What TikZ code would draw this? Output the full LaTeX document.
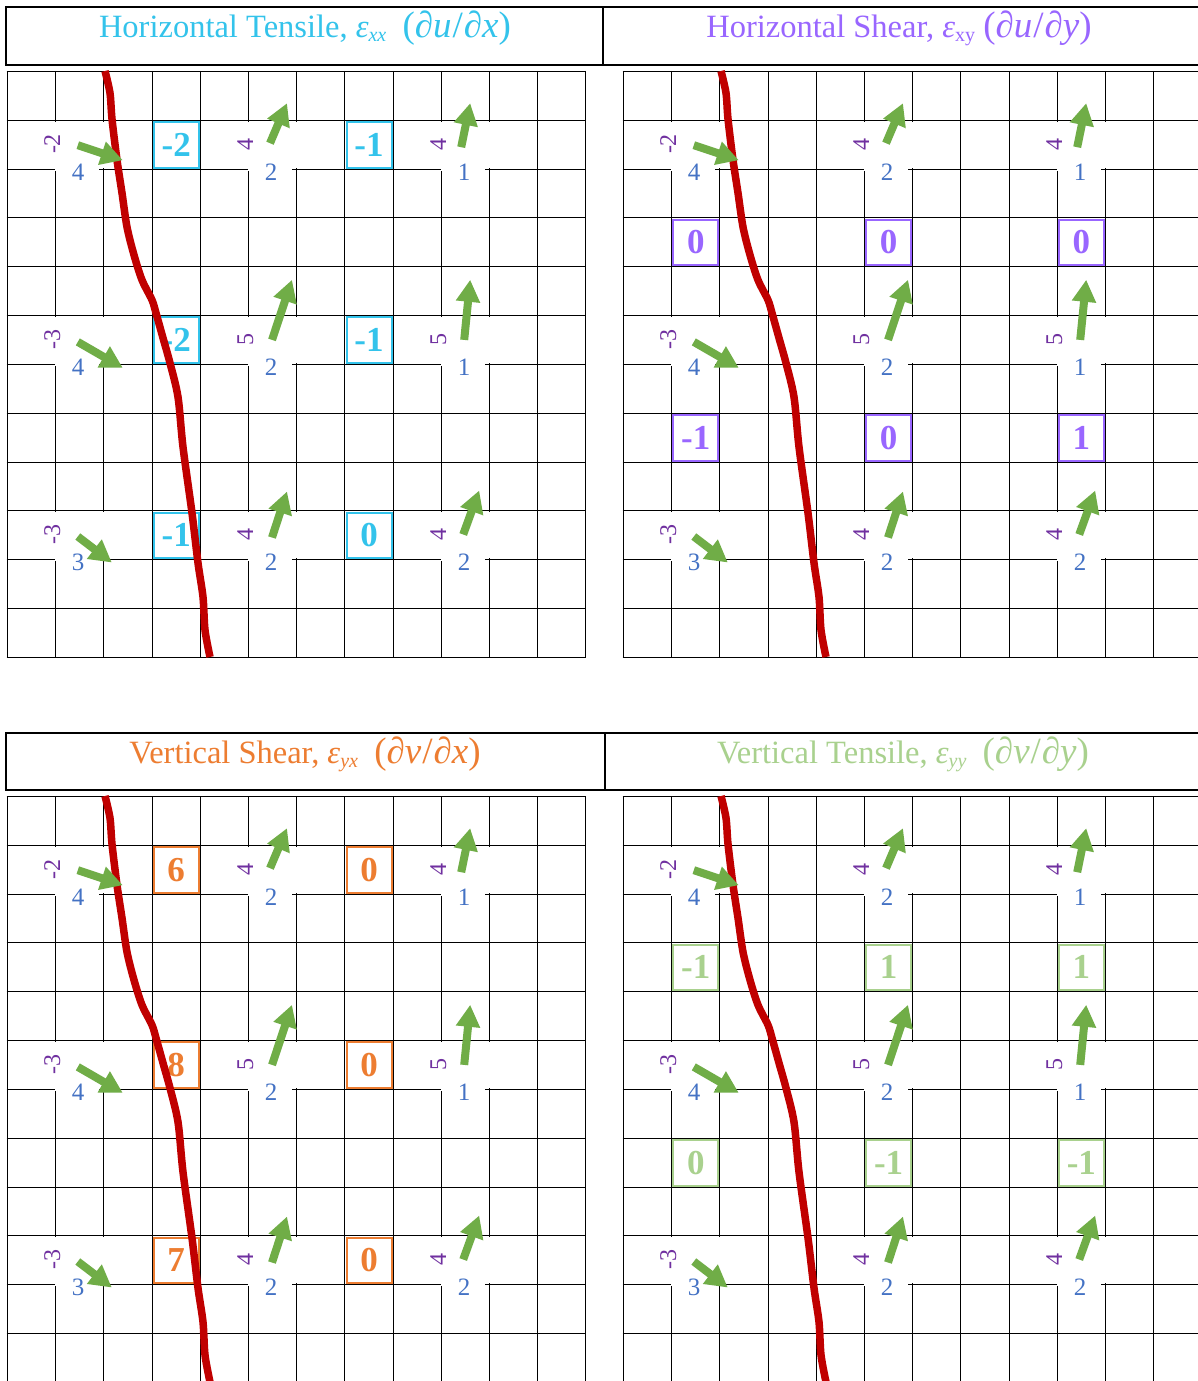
\documentclass[tikz,border=0pt]{standalone}
\usepackage{fontspec}
\setmainfont{Liberation Serif}
\usetikzlibrary{arrows.meta}
\definecolor{cyanC}{HTML}{33C3EB}
\definecolor{purpC}{HTML}{9966FF}
\definecolor{oranC}{HTML}{ED7D31}
\definecolor{lgreC}{HTML}{A9D18E}
\definecolor{labP}{HTML}{7030A0}
\definecolor{labB}{HTML}{4472C4}
\definecolor{arrG}{HTML}{70AD47}
\definecolor{redC}{HTML}{C00000}
\newcommand\dd[2]{{\fontsize{37}{40}\selectfont(∂\textit{#1}\kern1pt/\kern1pt∂\textit{#2})}}

\newcommand\drawpanel[5]{%
\begin{scope}[shift={(#1,#2)}]
  \foreach \i in {0,...,12}{
    \pgfmathsetmacro\lx{round(\i*48.2)+0.5}
    \pgfmathsetmacro\ly{round(\i*48.83)+0.5}
    \draw[gridline] (\lx,0) -- (\lx,586.8);
    \draw[gridline] (-0.3,\ly) -- (579.3,\ly);
  }
  \foreach \gc/\gr/\gp/\gb/\tx/\ty/\hx/\hy [count=\k] in {
    1/1/-2/4/22.8/25.2/67.8/40.2,
    5/1/4/2/22/23.2/39/-16.8,
    9/1/4/1/20.2/27.2/29.2/-16.8,
    1/5/-3/4/22.8/26.9/67.8/52.9,
    5/5/5/2/24/24.9/44/-35.2,
    9/5/5/1/23.2/24.9/29.2/-35.2,
    1/9/-3/3/22.8/26.5/56.8/52.5,
    5/9/4/2/24/27.5/39/-18.5,
    9/9/4/2/22.2/24.5/38.2/-19.5}{
    \pgfmathsetmacro\gx{round(\gc*48.2)}
    \pgfmathsetmacro\gy{round(\gr*48.83)}
    \fill[white] ({\gx-0.5},{\gy+1.5}) rectangle ({\gx+44},{\gy+51});
    \fill[white] ({\gx+44},{\gy+1.5}) rectangle ({\gx+50},{\gy+48});
    \node[plab] (#3p\k) at ({\gx+5},{\gy+24}) {\gp};
    \node[blab] (#3b\k) at ({\gx+23},{\gy+52}) {\gb};
    \coordinate (#3t\k) at ({\gx+\tx},{\gy+\ty});
    \coordinate (#3h\k) at ({\gx+\hx},{\gy+(\hy)});
  }
  \foreach \bc/\br/\bv [count=\j] in {#5}{
    \node[valbox,draw=#4,text=#4] (#3v\j) at ({(\bc+0.5)*48.2+0.5},{(\br+0.5)*48.83+0.5}) {\bv};
  }
  \draw[fault] plot[smooth] coordinates {(98,0) (103,22) (105,48) (110,89) (115,122) (120,156) (127,184) (135,209) (145,229) (149,242) (156,267) (163,292) (171,326) (176,376) (185,442) (191,492) (196,526) (198,559) (203,586)};
  \foreach \k in {1,...,9}{\draw[vec] (#3t\k) -- (#3h\k);}
\end{scope}}

\begin{document}
\begin{tikzpicture}[x=1pt,y=-1pt,
  gridline/.style={black, line width=1.5pt},
  hdrbox/.style={black, line width=2.6pt},
  hdrtext/.style={anchor=base, inner sep=0pt, font=\fontsize{32.5}{38}\selectfont},
  plab/.style={labP, rotate=90, anchor=base, inner sep=0pt, font=\fontsize{24}{28}\selectfont},
  blab/.style={labB, inner sep=0pt, font=\fontsize{25}{30}\selectfont},
  vec/.style={arrG, line width=8pt, -{Triangle[width=23pt,length=22pt]}},
  fault/.style={redC, line width=7.5pt, line join=round},
  valbox/.style={fill=white, line width=2pt, minimum width=45pt, minimum height=45.6pt, inner sep=0pt, font=\bfseries\fontsize{35}{38}\selectfont}]
\useasboundingbox (0,0) rectangle (1198,1381);
\clip (0,0) rectangle (1198,1381);
\fill[white] (0,0) rectangle (1198,1381);

% headers
\draw[hdrbox] (6,7) rectangle (603,65);
\draw[hdrbox] (603,7) rectangle (1215,65);
\draw[hdrbox] (6,733) rectangle (605,790);
\draw[hdrbox] (605,733) rectangle (1215,790);
\node[hdrtext, cyanC] (hTL) at (305,38) {Horizontal Tensile, \textit{ε}\raisebox{-4pt}{\fontsize{20}{20}\selectfont\itshape xx}\ \ \dd{u}{x}};
\node[hdrtext, purpC] (hTR) at (899,38) {Horizontal Shear, \textit{ε}\raisebox{-4pt}{\fontsize{20}{20}\selectfont xy} \dd{u}{y}};
\node[hdrtext, oranC] (hBL) at (305,763) {Vertical Shear, \textit{ε}\raisebox{-4pt}{\fontsize{20}{20}\selectfont\itshape yx}\ \ \dd{v}{x}};
\node[hdrtext, lgreC] (hBR) at (903,763) {Vertical Tensile, \textit{ε}\raisebox{-4pt}{\fontsize{20}{20}\selectfont\itshape yy}\ \ \dd{v}{y}};

\drawpanel{7}{71}{tl}{cyanC}{3/1/-2, 3/5/-2, 3/9/-1, 7/1/-1, 7/5/-1, 7/9/0}
\drawpanel{623}{71}{tr}{purpC}{1/3/0, 1/7/-1, 5/3/0, 5/7/0, 9/3/0, 9/7/1}
\drawpanel{7}{796}{bl}{oranC}{3/1/6, 3/5/8, 3/9/7, 7/1/0, 7/5/0, 7/9/0}
\drawpanel{623}{796}{br}{lgreC}{1/3/-1, 1/7/0, 5/3/1, 5/7/-1, 9/3/1, 9/7/-1}
\end{tikzpicture}
\end{document}
